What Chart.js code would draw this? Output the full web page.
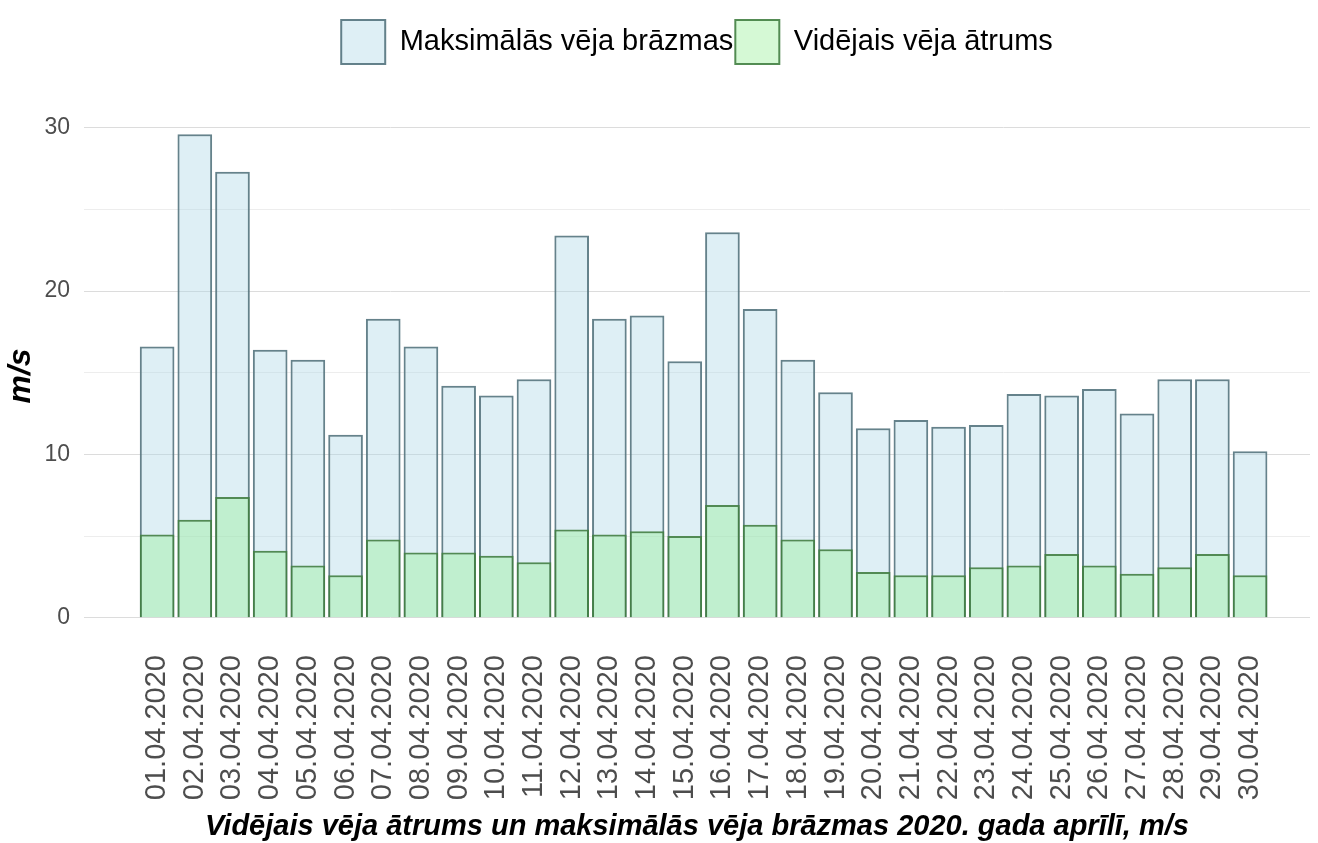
<!DOCTYPE html>
<html>
<head>
<meta charset="utf-8">
<script src="https://cdn.jsdelivr.net/npm/chart.js@4"></script>
<style>
  body { margin: 0; background: #fff; }
  #wrap { width: 1318px; height: 843px; }
</style>
</head>
<body>
<div id="wrap"><canvas id="windChart"></canvas></div>
<script>
const dates = [
    "01.04.2020", "02.04.2020", "03.04.2020", "04.04.2020", "05.04.2020",
    "06.04.2020", "07.04.2020", "08.04.2020", "09.04.2020", "10.04.2020",
    "11.04.2020", "12.04.2020", "13.04.2020", "14.04.2020", "15.04.2020",
    "16.04.2020", "17.04.2020", "18.04.2020", "19.04.2020", "20.04.2020",
    "21.04.2020", "22.04.2020", "23.04.2020", "24.04.2020", "25.04.2020",
    "26.04.2020", "27.04.2020", "28.04.2020", "29.04.2020", "30.04.2020"
];
// maksimālās vēja brāzmas
const maxGust = [
    16.6, 29.6, 27.3, 16.4, 15.8, 11.2, 18.3, 16.6, 14.2, 13.6,
    14.6, 23.4, 18.3, 18.5, 15.7, 23.6, 18.9, 15.8, 13.8, 11.6,
    12.1, 11.7, 11.8, 13.7, 13.6, 14.0, 12.5, 14.6, 14.6, 10.2
];
// vidējais vēja ātrums
const avgSpeed = [
    5.1, 6.0, 7.4, 4.1, 3.2, 2.6, 4.8, 4.0, 4.0, 3.8,
    3.4, 5.4, 5.1, 5.3, 5.0, 6.9, 5.7, 4.8, 4.2, 2.8,
    2.6, 2.6, 3.1, 3.2, 3.9, 3.2, 2.7, 3.1, 3.9, 2.6
];
const yTicks = [0, 5, 10, 15, 20, 25, 30];

const txtGrey = '#4d4d4d';

// push the plot area down below the legend
const legendGap = {
    id: 'legendGap',
    beforeInit(chart) {
        const fit = chart.legend.fit;
        chart.legend.fit = function () {
            fit.bind(chart.legend)();
            this.height += 36;
        };
    }
};

const ctx = document.getElementById('windChart');

new Chart(ctx, {
    type: 'bar',
    data: {
        datasets: [
            {
                label: 'Maksimālās vēja brāzmas',
                data: maxGust.map((v, i) => ({ x: i + 1, y: v })),
                backgroundColor: 'rgba(173, 216, 230, 0.4)',
                borderColor: 'rgba(84, 116, 126, 0.9)',
                borderWidth: 2,
                grouped: false,
                order: 1
            },
            {
                label: 'Vidējais vēja ātrums',
                data: avgSpeed.map((v, i) => ({ x: i + 1, y: v })),
                backgroundColor: 'rgba(144, 238, 144, 0.38)',
                borderColor: 'rgba(66, 128, 66, 0.9)',
                borderWidth: 2,
                grouped: false,
                order: 0
            }
        ]
    },
    options: {
        responsive: true,
        maintainAspectRatio: false,
        animation: false,
        barPercentage: 0.92,
        categoryPercentage: 1,
        layout: {
            padding: { top: 18, right: 8, bottom: 0, left: 0 }
        },
        plugins: {
            tooltip: { enabled: false },
            legend: {
                position: 'top',
                fullSize: false,
                labels: {
                    boxWidth: 44,
                    boxHeight: 44,
                    padding: 2,
                    color: '#000',
                    font: { family: 'Liberation Sans', size: 29 },
                    sort: (a, b) => a.datasetIndex - b.datasetIndex
                }
            }
        },
        scales: {
            x: {
                type: 'linear',
                min: -0.94,
                max: 31.59,
                offset: false,
                grid: { display: false, drawTicks: false },
                border: { display: false },
                afterBuildTicks: (scale) => {
                    scale.ticks = dates.map((d, i) => ({ value: i + 1 }));
                },
                afterFit: (scale) => { scale.height = 201; },
                ticks: {
                    autoSkip: false,
                    minRotation: 90,
                    maxRotation: 90,
                    padding: 13,
                    color: txtGrey,
                    font: { family: 'Liberation Sans', size: 29 },
                    callback: (v) => dates[v - 1]
                },
                title: {
                    display: true,
                    text: 'Vidējais vēja ātrums un maksimālās vēja brāzmas 2020. gada aprīlī, m/s',
                    color: '#000',
                    font: { family: 'Liberation Sans', size: 29, weight: 'bold', style: 'italic' },
                    padding: { top: 0, bottom: -1 }
                }
            },
            y: {
                min: -1.48,
                max: 31.08,
                grid: {
                    drawTicks: false,
                    lineWidth: 1,
                    color: (c) => (c.tick && c.tick.value % 10 === 0) ? '#dcdcdc' : '#ededed'
                },
                border: { display: false },
                afterBuildTicks: (scale) => {
                    scale.ticks = yTicks.map((v) => ({ value: v }));
                },
                afterFit: (scale) => { scale.width = 84; },
                ticks: {
                    padding: 14,
                    color: txtGrey,
                    font: { family: 'Liberation Sans', size: 23 },
                    callback: (v) => (v % 10 === 0 ? v : '')
                },
                title: {
                    display: true,
                    text: 'm/s',
                    color: '#000',
                    font: { family: 'Liberation Sans', size: 32, weight: 'bold', style: 'italic' },
                    padding: { top: 2, bottom: 0 }
                }
            }
        }
    },
    plugins: [legendGap]
});
</script>
</body>
</html>
